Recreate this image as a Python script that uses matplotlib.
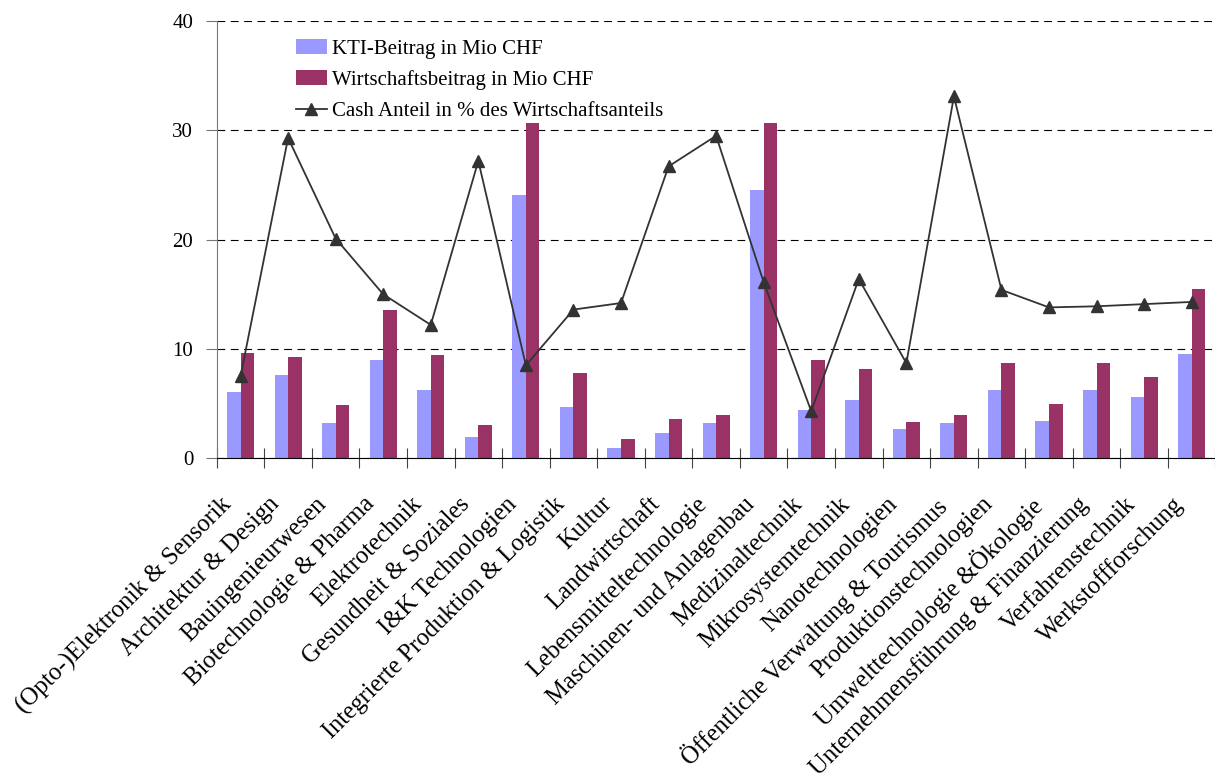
import matplotlib
matplotlib.use("Agg")
import matplotlib.pyplot as plt
import numpy as np

plt.rcParams['font.family'] = ['Liberation Serif', 'DejaVu Serif']

# Fachbereiche und Beiträge
bereiche = [
    "(Opto-)Elektronik & Sensorik", "Architektur & Design", "Bauingenieurwesen",
    "Biotechnologie & Pharma", "Elektrotechnik", "Gesundheit & Soziales",
    "I&K Technologien", "Integrierte Produktion & Logistik", "Kultur",
    "Landwirtschaft", "Lebensmitteltechnologie", "Maschinen- und Anlagenbau",
    "Medizinaltechnik", "Mikrosystemtechnik", "Nanotechnologien",
    "Öffentliche Verwaltung & Tourismus", "Produktionstechnologien",
    "Umwelttechnologie &Ökologie", "Unternehmensführung & Finanzierung",
    "Verfahrenstechnik", "Werkstoffforschung",
]
kti = [6.1, 7.6, 3.2, 9.0, 6.2, 1.9, 24.1, 4.7, 0.9, 2.3, 3.2,
       24.5, 4.4, 5.3, 2.7, 3.2, 6.2, 3.4, 6.2, 5.6, 9.5]
wirtschaft = [9.6, 9.3, 4.9, 13.6, 9.4, 3.0, 30.7, 7.8, 1.8, 3.6, 4.0,
              30.7, 9.0, 8.2, 3.3, 4.0, 8.7, 5.0, 8.7, 7.4, 15.5]
cash_anteil = [7.5, 29.3, 20.1, 15.0, 12.2, 27.2, 8.5, 13.6, 14.2, 26.7, 29.5,
               16.1, 4.3, 16.4, 8.7, 33.1, 15.4, 13.8, 13.9, 14.1, 14.3]

x = np.arange(len(bereiche))
w = 0.285

fig = plt.figure(figsize=(12.15, 7.78), dpi=100)
ax = fig.add_axes([0.1784, 0.411, 0.822, 0.562])

b1 = ax.bar(x - w / 2, kti, w, color="#9999FF", label="KTI-Beitrag in Mio CHF", zorder=2)
b2 = ax.bar(x + w / 2, wirtschaft, w, color="#993366", label="Wirtschaftsbeitrag in Mio CHF", zorder=2)
ln, = ax.plot(x, cash_anteil, color="#333333", lw=1.3, marker="^", markersize=8.5,
              label="Cash Anteil in % des Wirtschaftsanteils", zorder=3)

ax.set_xlim(-0.5, len(bereiche) - 0.5)
ax.set_ylim(0, 40)
ax.set_yticks([0, 10, 20, 30, 40])
ax.yaxis.grid(True, color="black", lw=0.8, linestyle=(0, (7, 5)), zorder=0)
ax.set_axisbelow(True)

for s in ("top", "right"):
    ax.spines[s].set_visible(False)
ax.spines["left"].set_color("#777777")
ax.spines["bottom"].set_color("black")

# Striche zwischen den Kategorien; Beschriftungen über unsichtbare Minor-Ticks,
# leicht nach links versetzt, damit das Textende unter der Kategorie liegt
ax.set_xticks(np.arange(len(bereiche) + 1) - 0.5)
ax.set_xticklabels([])
ax.set_xticks(x - 0.42, minor=True)
ax.set_xticklabels(bereiche, minor=True, rotation=45, ha="right",
                   rotation_mode="anchor", fontsize=17.7)
ax.tick_params(axis="x", which="minor", length=0, pad=25)
ax.tick_params(axis="x", which="major", direction="inout", length=14, color="#444444")
ax.tick_params(axis="y", direction="out", length=8, color="#777777", labelsize=15, pad=9)

ax.legend([b1, b2, ln], [b1.get_label(), b2.get_label(), ln.get_label()],
          loc="upper left", bbox_to_anchor=(0.079, 0.959), frameon=False, fontsize=15,
          handlelength=1.5, handleheight=0.7, handletextpad=0.25, labelspacing=0.55,
          borderpad=0, borderaxespad=0)

fig.savefig("out.png", dpi=100)
